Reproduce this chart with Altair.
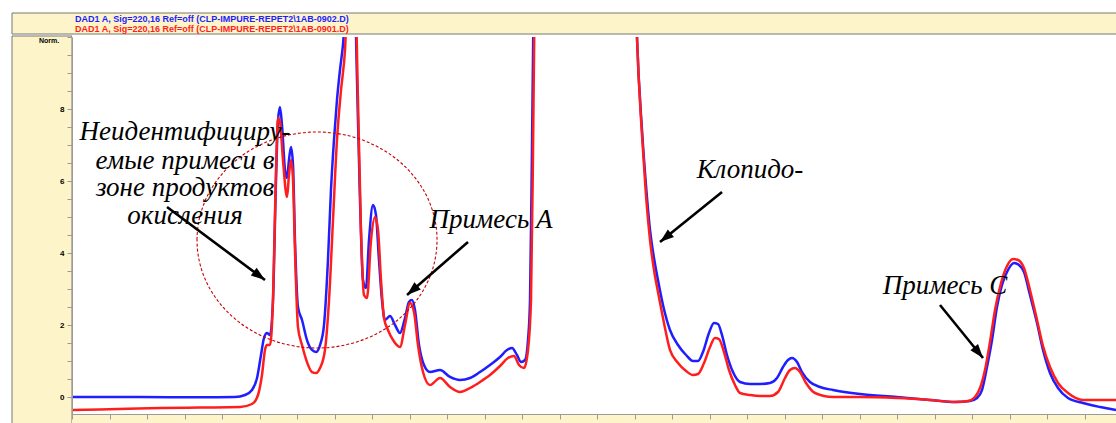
import math
import altair as alt
import pandas as pd

# ---- chromatogram traces (time, min / signal, Norm.) ----
blue_t = [0.00, 0.907, 1.707, 2.173, 2.307, 2.40, 2.467, 2.52, 2.56, 2.60, 2.64, 2.68, 2.72, 2.747, 2.773,
          2.80, 2.84, 2.867, 2.893, 2.92, 2.947, 2.973, 3.013, 3.067, 3.133, 3.20, 3.253, 3.307, 3.36,
          3.413, 3.453, 3.493, 3.533, 3.573, 3.613, 3.733, 3.80, 3.84, 3.88, 3.92, 3.96, 4.013, 4.053,
          4.093, 4.133, 4.173, 4.24, 4.307, 4.373, 4.44, 4.493, 4.533, 4.573, 4.627, 4.693, 4.773, 4.907,
          5.04, 5.173, 5.307, 5.44, 5.573, 5.707, 5.80, 5.867, 5.933, 5.987, 6.04, 6.08, 6.107, 6.133,
          6.16, 6.24, 6.773, 7.307, 7.493, 7.533, 7.60, 7.653, 7.707, 7.76, 7.813, 7.88, 7.973, 8.08,
          8.187, 8.28, 8.347, 8.413, 8.493, 8.56, 8.613, 8.667, 8.733, 8.813, 8.907, 9.04, 9.173, 9.307,
          9.40, 9.48, 9.547, 9.60, 9.667, 9.733, 9.84, 9.973, 10.147, 10.507, 11.0, 11.44, 11.773,
          11.973, 12.067, 12.133, 12.20, 12.267, 12.333, 12.40, 12.48, 12.56, 12.627, 12.693, 12.773,
          12.867, 12.947, 13.04, 13.147, 13.28, 13.48, 13.707, 13.92]
blue_v = [0.0, 0.0, -0.01, 0.0, 0.056, 0.194, 0.528, 1.167, 1.639, 1.778, 1.722, 2.694, 6.028, 7.694, 8.056,
          7.556, 6.306, 6.083, 6.583, 6.944, 6.444, 4.361, 2.5, 2.139, 1.583, 1.306, 1.25, 1.444, 2.0,
          3.806, 5.75, 7.139, 8.25, 9.083, 9.778, 14.0, 8.806, 5.472, 3.25, 3.028, 4.361, 5.333, 5.056,
          3.806, 2.694, 2.139, 2.25, 2.0, 1.778, 2.194, 2.639, 2.694, 2.417, 1.444, 0.889, 0.694, 0.75,
          0.556, 0.472, 0.528, 0.694, 0.889, 1.111, 1.306, 1.361, 1.167, 0.972, 1.028, 1.583, 2.694, 6.861,
          12.0, 30.0, 60.0, 30.0, 13.0, 10.0, 7.417, 5.889, 4.639, 3.861, 3.25, 2.556, 1.861, 1.444,
          1.167, 1.0, 1.0, 1.25, 1.778, 2.056, 2.028, 1.722, 1.167, 0.694, 0.417, 0.361, 0.361, 0.389,
          0.528, 0.833, 1.028, 1.083, 0.972, 0.694, 0.417, 0.278, 0.194, 0.083, 0.0, -0.083, -0.139,
          -0.111, -0.028, 0.194, 0.833, 1.583, 2.5, 3.111, 3.528, 3.722, 3.667, 3.472, 2.833,
          2.056, 1.306, 0.667, 0.25, -0.028, -0.167, -0.278, -0.361]

red_t = [0.00, 0.373, 1.173, 1.707, 2.24, 2.40, 2.48, 2.533, 2.573, 2.60, 2.64, 2.68, 2.72, 2.747, 2.773,
         2.813, 2.867, 2.893, 2.92, 2.947, 2.973, 3.013, 3.067, 3.133, 3.20, 3.253, 3.307, 3.373, 3.427,
         3.48, 3.533, 3.587, 3.64, 3.733, 3.813, 3.853, 3.893, 3.933, 3.987, 4.04, 4.08, 4.12, 4.16,
         4.213, 4.28, 4.373, 4.44, 4.507, 4.56, 4.613, 4.68, 4.773, 4.907, 5.04, 5.173, 5.307, 5.44,
         5.573, 5.707, 5.813, 5.893, 5.96, 6.027, 6.08, 6.12, 6.147, 6.173, 6.24, 6.773, 7.307, 7.493,
         7.533, 7.60, 7.653, 7.707, 7.76, 7.813, 7.88, 7.973, 8.08, 8.187, 8.28, 8.347, 8.427, 8.507,
         8.573, 8.627, 8.693, 8.76, 8.84, 8.907, 9.04, 9.173, 9.307, 9.413, 9.507, 9.573, 9.64, 9.707,
         9.787, 9.907, 10.147, 10.507, 11.0, 11.44, 11.773, 11.947, 12.04, 12.107, 12.173, 12.24,
         12.307, 12.387, 12.467, 12.547, 12.613, 12.693, 12.773, 12.867, 12.947, 13.04, 13.147, 13.28,
         13.48, 13.707, 13.92]
red_v = [-0.361, -0.347, -0.306, -0.292, -0.278, -0.194, 0.056, 0.611, 1.306, 1.444, 1.444, 2.694, 6.306,
         7.75, 7.639, 6.583, 5.556, 6.167, 6.583, 6.028, 4.083, 1.944, 1.444, 0.972, 0.694, 0.667, 0.806,
         1.306, 2.694, 4.917, 7.139, 8.528, 9.639, 15.0, 8.25, 4.639, 2.833, 2.75, 4.361, 5.0, 4.639,
         3.25, 2.194, 1.861, 1.583, 1.389, 2.0, 2.611, 2.361, 1.444, 0.694, 0.333, 0.528, 0.278, 0.139,
         0.25, 0.417, 0.611, 0.861, 1.083, 1.139, 0.889, 0.806, 1.306, 2.694, 6.861, 12.0, 30.0, 60.0,
         30.0, 13.0, 10.0, 7.278, 5.611, 4.361, 3.528, 2.917, 2.194, 1.306, 0.944, 0.722, 0.611, 0.639,
         0.944, 1.389, 1.639, 1.611, 1.25, 0.75, 0.333, 0.111, 0.056, 0.028, 0.028, 0.139, 0.528, 0.75,
         0.806, 0.694, 0.389, 0.111, 0.0, 0.0, -0.028, -0.083, -0.139, -0.111, 0.0, 0.25, 0.75, 1.528,
         2.417, 3.167, 3.639, 3.833, 3.806, 3.583, 2.972, 2.139, 1.417, 0.833, 0.389, 0.111, -0.083,
         -0.083, -0.083]

header_lines = [r"DAD1 A, Sig=220,16 Ref=off (CLP-IMPURE-REPET2\1AB-0902.D)",
                r"DAD1 A, Sig=220,16 Ref=off (CLP-IMPURE-REPET2\1AB-0901.D)"]

x_tick_values = [0, 0.5, 1, 1.5, 2, 2.5, 3, 3.5, 4, 4.5, 5, 5.5, 6, 6.5, 7, 7.5, 8, 8.5, 9, 9.5,
                 10, 10.5, 11, 11.5, 12, 12.5, 13, 13.5]
y_tick_values = [0, 0.5, 1, 1.5, 2, 2.5, 3, 3.5, 4, 4.5, 5, 5.5, 6, 6.5, 7, 7.5, 8, 8.5, 9, 9.5, 10]

# annotations (in data units)
label_text = ["Неидентифициру-", "емые примеси в", "зоне продуктов", "окисления",
              "Примесь А", "Клопидо-", "Примесь С"]
label_t = [1.507, 1.507, 1.507, 1.507, 5.587, 9.04, 11.64]
label_v = [7.36, 6.56, 5.81, 5.03, 4.917, 6.306, 3.083]

arrow_t_start = [1.267, 5.28, 8.667, 11.573]
arrow_v_start = [5.278, 4.306, 5.694, 2.556]
arrow_t_tip = [2.573, 4.467, 7.84, 12.147]
arrow_v_tip = [3.25, 2.833, 4.306, 1.083]

ellipse_t = [3.267]
ellipse_v = [4.361]

# ---- layout ----
W, H = 1044, 377
XDOM = [0, 13.92]
YDOM = [-0.472, 10]
BLUE = "#1e1eff"
RED = "#ff1e1e"
YELLOW = "#fdf5c9"
EDGE = "#777777"

xs = alt.Scale(domain=XDOM, nice=False, zero=False)
ys = alt.Scale(domain=YDOM, nice=False, zero=False)

common_axis = dict(title=None, grid=False, domainColor="#9a9a9a", tickColor="#9a9a9a", tickSize=5,
                   labelFontSize=8, labelFontWeight="bold", labelColor="black",
                   labelFont="Liberation Sans", zindex=1, labelOverlap=False, labelFlush=False)
xaxis = alt.Axis(values=x_tick_values, labelPadding=2,
                 labelExpr="datum.value % 2 == 0 ? format(datum.value, 'd') : ''", **common_axis)
yaxis = alt.Axis(values=y_tick_values, labelPadding=3,
                 labelExpr="(datum.value % 2 == 0 && datum.value < 9) ? format(datum.value, 'd') : ''",
                 **common_axis)

X = lambda f: alt.X(f, type="quantitative", scale=xs, axis=xaxis)
Y = lambda f: alt.Y(f, type="quantitative", scale=ys, axis=yaxis)

one = pd.DataFrame({"a": [0]})

# frame pieces (pixel offsets relative to the plot area)
bg_left = alt.Chart(one).mark_rect(fill=YELLOW, stroke=EDGE, strokeWidth=1).encode(
    x=alt.value(-60), x2=alt.value(0), y=alt.value(-1), y2=alt.value(400))
bg_bottom = alt.Chart(one).mark_rect(fill=YELLOW).encode(
    x=alt.value(0), x2=alt.value(W + 5), y=alt.value(H), y2=alt.value(400))
plot_bg = alt.Chart(one).mark_rect(fill="white").encode(
    x=alt.value(0), x2=alt.value(W + 5), y=alt.value(-1), y2=alt.value(H))
header = alt.Chart(one).mark_rect(fill=YELLOW, stroke=EDGE, strokeWidth=1).encode(
    x=alt.value(-60), x2=alt.value(W + 5), y=alt.value(-24), y2=alt.value(-3))
hdr_df = pd.DataFrame({"txt": header_lines, "col": [BLUE, RED], "yy": [-18.5, -8.5]})
header_text = alt.Chart(hdr_df).mark_text(align="left", baseline="middle", fontSize=9,
                                          fontWeight="bold", font="Liberation Sans").encode(
    x=alt.value(3), y=alt.Y("yy:Q", scale=None), text="txt:N", color=alt.Color("col:N", scale=None))
norm_text = alt.Chart(one).mark_text(text="Norm.", fontSize=7, fontWeight="bold",
                                     font="Liberation Sans", color="black").encode(
    x=alt.value(-23), y=alt.value(4))

blue_df = pd.DataFrame({"t": blue_t, "v": blue_v})
red_df = pd.DataFrame({"t": red_t, "v": red_v})
blue_line = alt.Chart(blue_df).mark_line(color=BLUE, strokeWidth=2.5, interpolate="monotone",
                                         clip=True).encode(x=X("t"), y=Y("v"))
red_line = alt.Chart(red_df).mark_line(color=RED, strokeWidth=2.5, interpolate="monotone",
                                       clip=True).encode(x=X("t"), y=Y("v"))

# ellipse (dashed)
ell_df = pd.DataFrame({"t": ellipse_t, "v": ellipse_v})
ellipse = alt.Chart(ell_df).mark_point(
    shape="M-1,0 A1,0.9 0 1,1 1,0 A1,0.9 0 1,1 -1,0 Z", size=57600, filled=False,
    stroke="#c80000", strokeWidth=1.1, strokeDash=[3, 2], opacity=1).encode(x=X("t"), y=Y("v"))

# arrows
px_x = W / (XDOM[1] - XDOM[0])
px_y = H / (YDOM[1] - YDOM[0])
angles = []
for ts, vs, tt, vt in zip(arrow_t_start, arrow_v_start, arrow_t_tip, arrow_v_tip):
    dx = (tt - ts) * px_x
    dy = -(vt - vs) * px_y
    angles.append(math.degrees(math.atan2(dx, -dy)) % 360)
arr_df = pd.DataFrame({"t": arrow_t_start, "v": arrow_v_start, "t2": arrow_t_tip,
                       "v2": arrow_v_tip, "ang": angles})
shafts = alt.Chart(arr_df).mark_rule(color="black", strokeWidth=2.6).encode(
    x=X("t"), y=Y("v"), x2="t2:Q", y2="v2:Q")
heads = alt.Chart(arr_df).mark_point(shape="M0,0 L0.7,2 L-0.7,2 Z", size=196, filled=True,
                                     color="black", opacity=1).encode(
    x=X("t2"), y=Y("v2"), angle=alt.Angle("ang:Q", scale=None))

lab_df = pd.DataFrame({"t": label_t, "v": label_v, "txt": label_text})
labels = alt.Chart(lab_df).mark_text(font="Liberation Serif", fontStyle="italic", fontSize=27,
                                     color="black", align="center", baseline="middle").encode(
    x=X("t"), y=Y("v"), text="txt:N")

chart = alt.layer(
    bg_left, bg_bottom, plot_bg, header, header_text, norm_text,
    blue_line, red_line, ellipse, shafts, heads, labels
).properties(
    width=W, height=H,
    padding={"left": 72, "top": 37, "right": 0, "bottom": 9},
    autosize=alt.AutoSizeParams(type="none"),
    background="white",
).configure_view(stroke=None)

chart.save("out.html", embed_options={"renderer": "svg", "actions": False})
